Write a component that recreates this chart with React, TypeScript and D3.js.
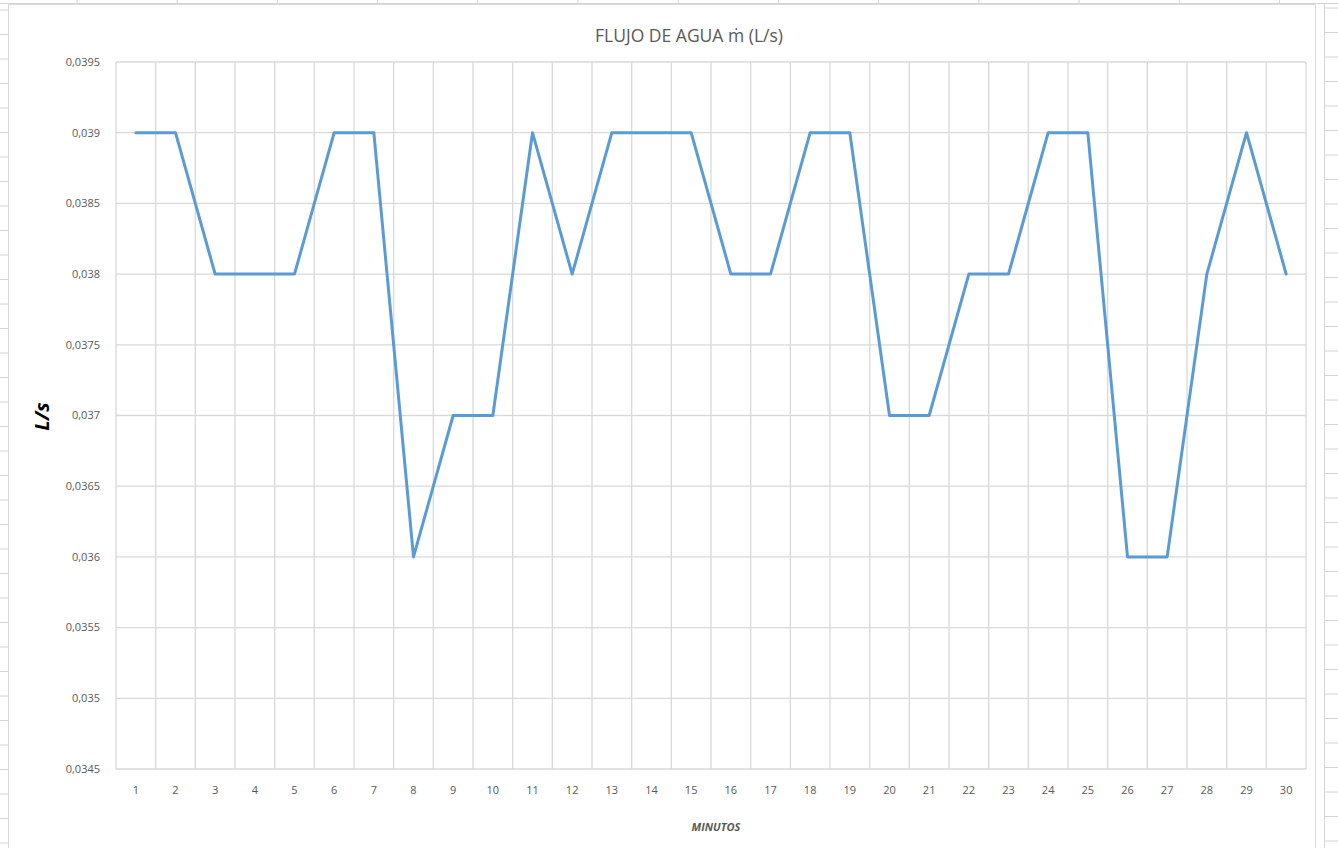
import React from "react";
import * as d3 from "d3";

const minutes: number[] = Array.from({ length: 30 }, (_, i) => i + 1);
const flow: number[] = [
  0.039, 0.039, 0.038, 0.038, 0.038, 0.039, 0.039, 0.036, 0.037, 0.037,
  0.039, 0.038, 0.039, 0.039, 0.039, 0.038, 0.038, 0.039, 0.039, 0.037,
  0.037, 0.038, 0.038, 0.039, 0.039, 0.036, 0.036, 0.038, 0.039, 0.038,
];
const yTicks: number[] = [0.0345, 0.035, 0.0355, 0.036, 0.0365, 0.037, 0.0375, 0.038, 0.0385, 0.039, 0.0395];
const title = "FLUJO DE AGUA ṁ (L/s)";
const yLabel = "L/s";
const xLabel = "MINUTOS";

const W = 1338;
const H = 848;
const plot = { left: 116, right: 1306, top: 62, bottom: 769 };

const fmt = (v: number) => String(+v.toFixed(4)).replace(".", ",");

export default function App() {
  const x = d3
    .scaleBand<number>()
    .domain(minutes)
    .range([plot.left, plot.right]);
  const y = d3.scaleLinear().domain([0.0345, 0.0395]).range([plot.bottom, plot.top]);
  const line = d3
    .line<number>()
    .x((_, i) => (x(minutes[i]) as number) + x.bandwidth() / 2)
    .y((d) => y(d));

  const gridX = minutes.map((m) => x(m) as number).concat([plot.right]);
  const sheetCols = d3.range(77, W, 100.2);
  const sheetRows = d3.range(10, H, 24.5);

  return (
    <svg
      width={W}
      height={H}
      style={{ position: "absolute", left: 0, top: 0, background: "#fff" }}
    >
      {/* spreadsheet background */}
      <line x1={0} x2={W} y1={3.5} y2={3.5} stroke="#d4d4d4" />
      {sheetCols.map((c, i) => (
        <line key={"c" + i} x1={c} x2={c} y1={0} y2={4} stroke="#d4d4d4" />
      ))}
      <line x1={1324.5} x2={1324.5} y1={4} y2={H} stroke="#d4d4d4" />
      {sheetRows.map((r, i) => (
        <g key={"r" + i}>
          <line x1={0} x2={8} y1={r} y2={r} stroke="#d4d4d4" />
          <line x1={1325} x2={W} y1={r - 2} y2={r - 2} stroke="#d4d4d4" />
        </g>
      ))}
      {/* chart area */}
      <rect x={8.5} y={4.5} width={1307} height={845} fill="#fff" stroke="#d9d9d9" />

      {/* gridlines */}
      {yTicks.map((t) => (
        <line key={"h" + t} x1={plot.left} x2={plot.right} y1={y(t)} y2={y(t)} stroke="#d9d9d9" strokeWidth={1.3} />
      ))}
      {gridX.map((gx, i) => (
        <line key={"v" + i} x1={gx} x2={gx} y1={plot.top} y2={plot.bottom} stroke="#d9d9d9" strokeWidth={1.3} />
      ))}

      {/* y tick labels */}
      {yTicks.map((t) => (
        <text
          key={"yl" + t}
          x={100}
          y={y(t)}
          dy="0.35em"
          textAnchor="end"
          fontFamily="'Open Sans', 'Liberation Sans', sans-serif"
          fontSize={11}
          fill="#595959"
        >
          {fmt(t)}
        </text>
      ))}
      {/* x tick labels */}
      {minutes.map((m) => (
        <text
          key={"xl" + m}
          x={(x(m) as number) + x.bandwidth() / 2}
          y={790}
          dy="0.35em"
          textAnchor="middle"
          fontFamily="'Open Sans', 'Liberation Sans', sans-serif"
          fontSize={11}
          fill="#595959"
        >
          {m}
        </text>
      ))}

      {/* series line */}
      <path d={line(flow) || ""} fill="none" stroke="#5B9BD5" strokeWidth={3} strokeLinejoin="round" strokeLinecap="round" />

      {/* title */}
      <text
        x={689}
        y={42}
        textAnchor="middle"
        fontFamily="'Open Sans', 'Liberation Sans', sans-serif"
        fontSize={17.5}
        fill="#595959"
      >
        {title}
      </text>
      {/* y label */}
      <text
        transform={`translate(42, ${(plot.top + plot.bottom) / 2 + 1}) rotate(-90)`}
        textAnchor="middle"
        dy="0.35em"
        fontFamily="'Open Sans', 'Liberation Sans', sans-serif"
        fontSize={20}
        fontWeight="bold"
        fontStyle="italic"
        fill="#000"
      >
        {yLabel}
      </text>
      {/* x label */}
      <text
        x={716}
        y={827}
        dy="0.35em"
        textAnchor="middle"
        fontFamily="'Open Sans', 'Liberation Sans', sans-serif"
        fontSize={11}
        fontWeight="bold"
        fontStyle="italic"
        fill="#595959"
      >
        {xLabel}
      </text>
    </svg>
  );
}
